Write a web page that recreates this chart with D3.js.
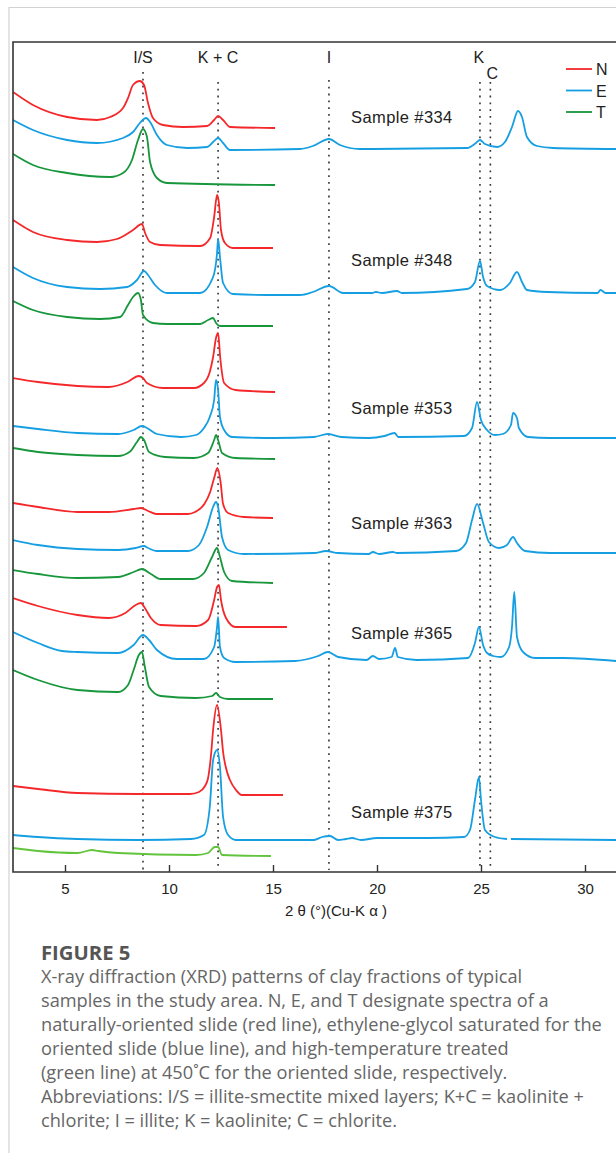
<!DOCTYPE html>
<html>
<head>
<meta charset="utf-8">
<script src="https://cdn.jsdelivr.net/npm/d3@7"></script>
<style>
  body { margin: 0; background: #fff; }
  svg { display: block; }
</style>
</head>
<body>
<svg id="chart"></svg>
<script>
// samples and treatments
const samples = ['Sample #334', 'Sample #348', 'Sample #353', 'Sample #363', 'Sample #365', 'Sample #375'];
const treatments = ['N', 'E', 'T'];

// reference peaks (2 theta, degrees)
const peakNames = ['I/S', 'K + C', 'I', 'K', 'C'];
const peakPos = [8.75, 12.36, 17.69, 24.95, 25.45];

const xTicks = [5, 10, 15, 20, 25, 30];

// traces: [2 theta, stacked intensity (a.u.)]
const s334N = [[2.5,780],[3.46,767],[5.1,755],[6.54,752],[7.17,755],[7.79,764],[8.03,774],[8.27,787],[8.6,791],[8.8,787],[8.99,769],[9.23,754],[9.71,747],[10.67,745],[11.83,746],[12.17,752],[12.36,756],[12.6,752],[12.93,745],[15.1,744]];
const s334E = [[2.5,752],[3.46,742],[5.1,732],[6.54,729],[7.79,734],[8.27,740],[8.6,749],[8.9,754],[9.09,750],[9.42,737],[9.9,727],[10.87,724],[11.83,725],[12.12,730],[12.36,734],[12.6,729],[12.93,722],[16.3,723],[16.92,726],[17.69,733],[18.22,727],[19.18,723],[24.33,724],[24.76,729],[24.95,732],[25.19,728],[25.77,725],[26.15,730],[26.49,745],[26.78,761],[26.97,755],[27.21,735],[27.69,726],[28.46,724],[31.5,723]];
const s334T = [[2.5,718],[3.46,707],[5.1,699],[7.17,695],[7.79,699],[8.22,712],[8.51,732],[8.75,743],[8.94,735],[9.09,710],[9.42,694],[9.9,689],[15.1,687]];

const s348N = [[2.5,652],[3.46,640],[5.1,632],[6.54,630],[7.5,633],[8.27,642],[8.7,648],[8.85,639],[9.09,630],[9.57,627],[11.5,626],[11.98,634],[12.17,655],[12.31,677],[12.4,669],[12.5,642],[12.69,629],[13.07,624],[15.0,624]];
const s348E = [[2.5,605],[3.46,594],[5.1,585],[6.68,583],[7.98,585],[8.46,592],[8.8,601],[8.99,597],[9.33,587],[9.9,579],[11.5,579],[12.12,595],[12.31,619],[12.36,633],[12.45,615],[12.6,589],[13.07,578],[14.7,577],[16.3,577],[16.92,580],[17.69,586],[18.37,579],[19.76,579],[19.95,580],[20.24,579],[20.96,581],[21.2,579],[24.33,583],[24.71,590],[24.95,611],[25.1,595],[25.29,586],[25.91,582],[26.39,589],[26.73,600],[26.97,590],[27.21,582],[28.2,580],[30.6,579],[30.75,582],[30.99,579],[31.5,579]];
const s348T = [[2.5,571],[3.46,562],[5.1,555],[6.68,553],[7.65,555],[8.03,567],[8.27,575],[8.51,579],[8.65,572],[8.75,557],[9.23,549],[9.9,548],[11.5,548],[11.88,552],[12.12,554],[12.26,549],[12.45,546],[15.0,546]];

const s353N = [[2.5,494],[3.7,490],[5.6,486],[7.1,485],[8.0,490],[8.55,496],[8.75,494],[8.94,489],[9.71,484],[11.2,484],[11.68,489],[11.96,500],[12.12,515],[12.26,534],[12.36,539],[12.46,515],[12.65,489],[13.2,482],[15.1,480]];
const s353E = [[2.5,446],[3.7,443],[5.6,439],[7.55,438],[8.3,442],[8.7,446],[8.94,444],[9.42,438],[10.57,435],[11.3,437],[11.68,444],[11.96,455],[12.17,472],[12.26,492],[12.36,482],[12.45,455],[12.65,442],[13.03,435],[15.1,434],[16.97,435],[17.64,438],[18.3,435],[19.6,434],[20.36,436],[20.84,439],[21.03,435],[24.18,436],[24.57,444],[24.81,470],[25.0,452],[25.29,442],[25.67,437],[26.05,438],[26.44,447],[26.54,459],[26.73,454],[26.82,444],[27.26,435],[28.3,434],[31.5,434]];
const s353T = [[2.5,424],[3.7,420],[5.6,417],[7.55,416],[8.1,420],[8.46,430],[8.65,435],[8.8,432],[9.04,420],[9.8,415],[11.2,414],[11.88,419],[12.17,432],[12.26,437],[12.36,432],[12.55,419],[13.2,414],[15.1,413]];

const s363N = [[2.5,369],[3.7,365],[5.6,360],[7.1,360],[8.3,363],[8.65,364],[9.0,361],[9.4,358],[10.9,358],[11.25,360],[11.7,368],[11.98,380],[12.17,394],[12.33,404],[12.48,390],[12.6,368],[12.84,359],[13.6,355],[15.0,354]];
const s363E = [[2.5,332],[3.7,327],[5.6,323],[7.55,322],[8.4,324],[8.8,326],[9.0,324],[9.4,321],[10.9,321],[11.44,327],[11.83,345],[12.12,365],[12.26,370],[12.36,365],[12.55,335],[12.84,322],[13.6,318],[16.97,319],[17.55,321],[18.13,319],[19.6,318],[19.8,320],[20.1,318],[20.77,320],[20.96,319],[23.8,321],[24.28,329],[24.57,352],[24.81,368],[25.1,349],[25.38,330],[25.87,324],[26.25,327],[26.54,335],[26.73,329],[27.12,321],[28.32,319],[31.5,319]];
const s363T = [[2.5,302],[3.7,298],[5.6,294],[7.55,295],[8.3,300],[8.7,303],[9.13,298],[9.6,293],[11.15,293],[11.68,299],[12.07,315],[12.31,324],[12.45,315],[12.65,300],[13.03,291],[15.0,289]];

const s365N = [[2.5,274],[3.7,266],[5.6,257],[7.1,254],[7.9,259],[8.4,267],[8.65,269],[8.84,264],[9.13,254],[9.6,247],[11.3,246],[11.88,252],[12.17,272],[12.31,285],[12.4,287],[12.5,272],[12.74,254],[13.2,245],[15.67,245]];
const s365E = [[2.5,240],[3.7,229],[4.86,221],[5.6,220],[7.55,219],[8.3,227],[8.75,237],[9.04,232],[9.42,222],[10.38,213],[11.68,213],[12.17,225],[12.31,245],[12.36,255],[12.45,225],[12.65,214],[13.2,210],[16.06,211],[17.17,216],[17.64,220],[18.13,215],[19.5,212],[19.8,216],[20.1,213],[20.7,215],[20.87,224],[21.0,215],[21.9,212],[24.38,214],[24.71,229],[24.9,245],[25.1,227],[25.29,219],[25.58,216],[25.96,215],[26.35,225],[26.49,245],[26.6,280],[26.73,235],[27.02,220],[27.6,214],[28.95,214],[31.5,211]];
const s365T = [[2.5,202],[3.7,192],[5.6,182],[7.55,180],[8.03,187],[8.3,202],[8.55,217],[8.7,220],[8.84,205],[9.04,185],[9.6,176],[11.3,174],[12.07,176],[12.26,179],[12.45,175],[12.84,173],[15.0,173]];

const s375N = [[2.5,86],[3.7,83],[5.6,79],[8.5,78],[11.0,78],[11.44,80],[11.73,86],[11.88,94],[12.02,117],[12.12,142],[12.31,167],[12.5,142],[12.6,120],[12.74,104],[12.93,92],[13.22,82],[13.5,77],[15.48,77]];
const s375E = [[2.5,37],[3.7,35],[5.6,33],[8.55,32],[11.06,33],[11.68,37],[11.96,65],[12.12,112],[12.31,122],[12.45,105],[12.6,55],[12.84,37],[13.22,32],[16.97,32],[17.36,35],[17.74,36],[18.13,32],[18.5,33],[18.8,34],[19.23,32],[20.0,34],[22.26,34],[22.45,34],[24.18,35],[24.47,42],[24.71,72],[24.9,95],[25.0,72],[25.19,42],[25.67,35],[26.25,33],[26.33,null],[26.44,33],[31.5,32]];
const s375T = [[2.5,24],[3.7,21],[5.6,19],[6.3,22],[6.6,21],[7.55,19],[11.3,17],[11.88,19],[12.2,25],[12.36,25],[12.55,17],[14.9,16]];

const traces = [
  [s334N, s334E, s334T],
  [s348N, s348E, s348T],
  [s353N, s353E, s353T],
  [s363N, s363E, s363T],
  [s365N, s365E, s365T],
  [s375N, s375E, s375T]
];

// layout
const W = 616, H = 1153;
const plot = { left: 13, top: 42, bottom: 872 };
const colors = { N: '#f4282a', E: '#159fe2', T: '#17963c' };
const lightGreen = '#62c43c';
const labelAt = [749, 606, 458, 343, 233, 54];

const svg = d3.select('#chart').attr('width', W).attr('height', H);

svg.append('rect').attr('width', W).attr('height', H).attr('fill', '#fff');

// page frame
svg.append('path')
  .attr('d', `M9,${H} V7.5 H${W}`)
  .attr('fill', 'none').attr('stroke', '#d2d2d2').attr('stroke-width', 1.2);

const x = d3.scaleLinear().domain([2.5, 30]).range([13, 585]);
const y = d3.scaleLinear().domain([0, 830]).range([plot.bottom, plot.top]);

svg.append('clipPath').attr('id', 'clip')
  .append('rect').attr('x', plot.left).attr('y', plot.top).attr('width', W - plot.left).attr('height', plot.bottom - plot.top);

// dotted reference lines
const refTop = [72, 82, 80, 82, 82];
svg.append('g').selectAll('line')
  .data(peakPos)
  .join('line')
  .attr('x1', d => x(d)).attr('x2', d => x(d))
  .attr('y1', (d, i) => refTop[i]).attr('y2', plot.bottom - 2)
  .attr('stroke', '#333').attr('stroke-width', 1.6)
  .attr('stroke-dasharray', '1.8,5');

const labelY = [63, 63, 63, 63, 79];
const labelDx = [0, 0, 0, -1, 2];
svg.append('g').selectAll('text')
  .data(peakNames)
  .join('text')
  .attr('x', (d, i) => x(peakPos[i]) + labelDx[i])
  .attr('y', (d, i) => labelY[i])
  .attr('text-anchor', 'middle')
  .attr('font-family', 'Liberation Sans, Arial, sans-serif')
  .attr('font-size', 16)
  .attr('fill', '#222')
  .text(d => d);

// spectra
const line = d3.line()
  .defined(d => d[1] != null)
  .x(d => x(d[0]))
  .y(d => y(d[1]))
  .curve(d3.curveMonotoneX);

const g = svg.append('g').attr('clip-path', 'url(#clip)');
traces.forEach((set, si) => {
  set.forEach((pts, ti) => {
    let c = colors[treatments[ti]];
    if (si === 5 && ti === 2) c = lightGreen;
    g.append('path')
      .datum(pts)
      .attr('d', line)
      .attr('fill', 'none')
      .attr('stroke', c)
      .attr('stroke-width', 1.8)
      .attr('stroke-linejoin', 'round');
  });
});

// sample labels
svg.append('g').selectAll('text')
  .data(samples)
  .join('text')
  .attr('x', x(18.75))
  .attr('y', (d, i) => y(labelAt[i]))
  .attr('font-family', 'Liberation Sans, Arial, sans-serif')
  .attr('font-size', 16.5)
  .attr('letter-spacing', 0.4)
  .attr('fill', '#222')
  .text(d => d);

// legend
const lg = svg.append('g');
treatments.forEach((t, i) => {
  const ly = 69 + i * 21.5;
  lg.append('line').attr('x1', 566).attr('x2', 592).attr('y1', ly).attr('y2', ly)
    .attr('stroke', colors[t]).attr('stroke-width', 1.8);
  lg.append('text').attr('x', 596).attr('y', ly + 6)
    .attr('font-family', 'Liberation Sans, Arial, sans-serif')
    .attr('font-size', 16).attr('fill', '#222').text(t);
});

// frame: top, left, bottom
svg.append('path')
  .attr('d', `M${W},${plot.top} H${plot.left} V${plot.bottom} H${W}`)
  .attr('fill', 'none').attr('stroke', '#333').attr('stroke-width', 1.6);

// x axis
const axis = svg.append('g')
  .attr('transform', `translate(0,${plot.bottom})`)
  .call(d3.axisBottom(x).tickValues(xTicks).tickSizeInner(-7).tickSizeOuter(0).tickPadding(11));
axis.select('.domain').remove();
axis.selectAll('line').attr('stroke', '#333').attr('stroke-width', 1.4);
axis.selectAll('text')
  .attr('font-family', 'Liberation Sans, Arial, sans-serif')
  .attr('font-size', 15).attr('fill', '#222');

svg.append('text')
  .attr('x', 336).attr('y', 916)
  .attr('text-anchor', 'middle')
  .attr('font-family', 'Liberation Sans, Arial, sans-serif')
  .attr('font-size', 15).attr('fill', '#222')
  .text('2 θ (°)(Cu-K α )');

// caption
const caption = [
  'X-ray diffraction (XRD) patterns of clay fractions of typical',
  'samples in the study area. N, E, and T designate spectra of a',
  'naturally-oriented slide (red line), ethylene-glycol saturated for the',
  'oriented slide (blue line), and high-temperature treated',
  '(green line) at 450˚C for the oriented slide, respectively.',
  'Abbreviations: I/S = illite-smectite mixed layers; K+C = kaolinite +',
  'chlorite; I = illite; K = kaolinite; C = chlorite.'
];

const cap = svg.append('g').attr('transform', 'translate(41,0) scale(1.04,1)');

cap.append('text')
  .attr('x', 0).attr('y', 960)
  .attr('font-family', 'Open Sans, sans-serif')
  .attr('font-weight', 700)
  .attr('font-size', 19.5).attr('fill', '#555')
  .text('FIGURE 5');

cap.selectAll('text.line')
  .data(caption)
  .join('text')
  .attr('class', 'line')
  .attr('x', 0)
  .attr('y', (d, i) => 983 + i * 24)
  .attr('font-family', 'Open Sans, sans-serif')
  .attr('font-size', 17.5).attr('fill', '#666')
  .text(d => d);
</script>
</body>
</html>
